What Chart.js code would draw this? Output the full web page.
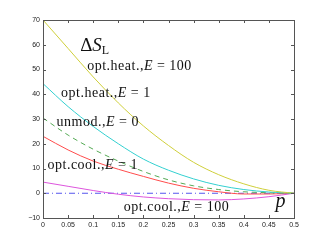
<!DOCTYPE html>
<html>
<head>
<meta charset="utf-8">
<script src="https://cdn.jsdelivr.net/npm/chart.js@4/dist/chart.umd.min.js"></script>
<style>
  html, body { margin: 0; padding: 0; background: #fff; }
  #wrap { width: 327px; height: 248px; }
</style>
</head>
<body>
<div id="wrap"><canvas id="entropyChart"></canvas></div>
<script>
// p values on the x axis
const pValues = [0, 0.05, 0.1, 0.15, 0.2, 0.25, 0.3, 0.35, 0.4, 0.45, 0.5];

// Delta S_L curves
const optHeat100 = [70, 58.5, 47, 36.5, 27.2, 19.3, 12.5, 7.5, 3.8, 1.2, 0];
const optHeat1   = [44.3, 35, 27, 20, 13.8, 9.3, 5.8, 3.2, 1.5, 0.5, 0];
const unmod0     = [30.4, 23.5, 17.8, 13, 8.8, 5.4, 3, 1.5, 0.6, 0.2, 0];
const optCool1   = [23, 17.5, 13, 9.7, 6.8, 4.1, 2, 0.6, -0.3, -0.3, 0];
const optCool100 = [4.5, 2.8, 1.1, -0.4, -1.5, -2.2, -2.6, -2.7, -2.3, -1.4, 0];
const zeroLine   = [0, 0, 0, 0, 0, 0, 0, 0, 0, 0, 0];

const xTicks = [0, 0.05, 0.1, 0.15, 0.2, 0.25, 0.3, 0.35, 0.4, 0.45, 0.5];
const yTicks = [-10, 0, 10, 20, 30, 40, 50, 60, 70];

// text labels placed in data units
const annotations = [
  { text: 'opt.heat.,', italic: 'E', rest: ' = 100', p: 0.088, v: 49.6 },
  { text: 'opt.heat.,', italic: 'E', rest: ' = 1', p: 0.036, v: 38.8 },
  { text: 'unmod.,', italic: 'E', rest: ' = 0', p: 0.027, v: 27.3 },
  { text: 'opt.cool.,', italic: 'E', rest: ' = 1', p: 0.009, v: 9.9 },
  { text: 'opt.cool.,', italic: 'E', rest: ' = 100', p: 0.161, v: -7.3 }
];

function pts(arr) {
  return pValues.map((p, i) => ({ x: p, y: arr[i] }));
}

function series(arr, color, dash) {
  return {
    data: pts(arr),
    borderColor: color,
    backgroundColor: color,
    borderWidth: 1,
    borderDash: dash || [],
    pointRadius: 0,
    cubicInterpolationMode: 'monotone',
    fill: false
  };
}

const frameAndText = {
  id: 'frameAndText',
  afterDraw(chart) {
    const ctx = chart.ctx;
    const a = chart.chartArea;
    const xs = chart.scales.x, ys = chart.scales.y;
    ctx.save();
    ctx.strokeStyle = '#555';
    ctx.lineWidth = 1;
    ctx.strokeRect(Math.round(a.left) + 0.5, Math.round(a.top) + 0.5,
      Math.round(a.right - a.left), Math.round(a.bottom - a.top));
    // inward ticks on all four sides
    ctx.beginPath();
    xTicks.forEach(t => {
      const x = Math.round(xs.getPixelForValue(t)) + 0.5;
      ctx.moveTo(x, a.bottom); ctx.lineTo(x, a.bottom - 3);
      ctx.moveTo(x, a.top); ctx.lineTo(x, a.top + 3);
    });
    yTicks.forEach(t => {
      const y = Math.round(ys.getPixelForValue(t)) + 0.5;
      ctx.moveTo(a.left, y); ctx.lineTo(a.left + 3, y);
      ctx.moveTo(a.right, y); ctx.lineTo(a.right - 3, y);
    });
    ctx.stroke();

    ctx.fillStyle = '#111';
    ctx.textBaseline = 'alphabetic';
    ctx.letterSpacing = '0.5px';
    annotations.forEach(an => {
      let x = xs.getPixelForValue(an.p);
      const y = ys.getPixelForValue(an.v);
      ctx.font = '14px "Liberation Serif"';
      ctx.fillText(an.text, x, y);
      x += ctx.measureText(an.text).width;
      ctx.font = 'italic 14px "Liberation Serif"';
      ctx.fillText(an.italic, x, y);
      x += ctx.measureText(an.italic).width;
      ctx.font = '14px "Liberation Serif"';
      ctx.fillText(an.rest, x, y);
    });
    ctx.letterSpacing = '0px';

    // Delta S_L title
    let tx = xs.getPixelForValue(0.074);
    const ty = ys.getPixelForValue(57.3);
    ctx.font = '19px "Liberation Serif"';
    ctx.fillText('\u0394', tx, ty);
    tx += ctx.measureText('\u0394').width;
    ctx.font = 'italic 19px "Liberation Serif"';
    ctx.fillText('S', tx, ty);
    tx += ctx.measureText('S').width;
    ctx.font = '12px "Liberation Serif"';
    ctx.fillText('L', tx, ty + 3);

    // p axis label
    ctx.font = 'italic 20px "Liberation Serif"';
    ctx.fillText('p', xs.getPixelForValue(0.463), ys.getPixelForValue(-5.7));
    ctx.restore();
  }
};

const ctx = document.getElementById('entropyChart').getContext('2d');
new Chart(ctx, {
  type: 'line',
  data: {
    datasets: [
      series(optHeat100, '#cfcf3a'),
      series(optHeat1, '#33d0d0'),
      series(unmod0, '#55aa55', [5, 4]),
      series(optCool1, '#ff4c4c'),
      series(optCool100, '#dd55dd'),
      series(zeroLine, '#5555ee', [6, 3, 1, 3])
    ]
  },
  options: {
    responsive: true,
    maintainAspectRatio: false,
    animation: false,
    layout: { padding: { top: 20, right: 33, left: 0, bottom: 0 } },
    plugins: { legend: { display: false }, tooltip: { enabled: false } },
    scales: {
      x: {
        type: 'linear',
        min: 0, max: 0.5,
        afterBuildTicks: s => { s.ticks = xTicks.map(v => ({ value: v })); },
        afterFit: s => { s.height = 30; },
        grid: { display: false, drawTicks: false },
        border: { display: false },
        ticks: {
          color: '#222',
          font: { family: 'Liberation Sans', size: 7 },
          padding: 3,
          maxRotation: 0,
          callback: v => String(v)
        }
      },
      y: {
        type: 'linear',
        min: -10, max: 70,
        afterBuildTicks: s => { s.ticks = yTicks.map(v => ({ value: v })); },
        afterFit: s => { s.width = 43; },
        grid: { display: false, drawTicks: false },
        border: { display: false },
        ticks: {
          color: '#222',
          font: { family: 'Liberation Sans', size: 7 },
          padding: 3,
          callback: v => (v < 0 ? '\u2212' + Math.abs(v) : String(v))
        }
      }
    }
  },
  plugins: [frameAndText]
});
</script>
</body>
</html>
